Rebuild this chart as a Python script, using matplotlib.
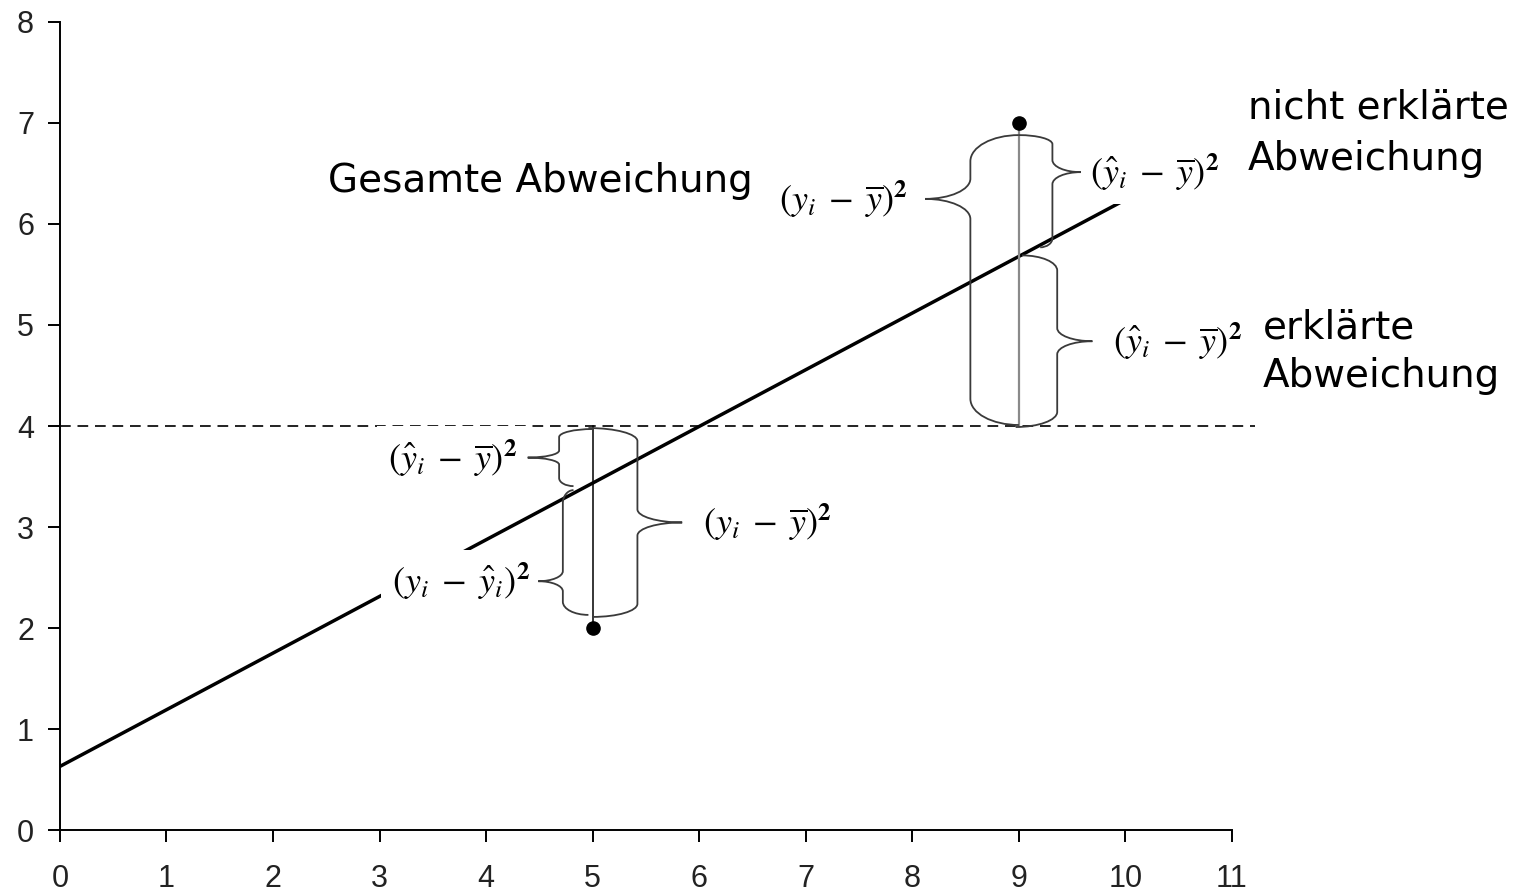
import numpy as np
import matplotlib.pyplot as plt
from matplotlib.path import Path
from matplotlib.patches import PathPatch

plt.rcParams['mathtext.fontset'] = 'stix'

# observations, mean and fitted regression line
x_obs = [5, 9]
y_obs = [2, 7]
y_mean = 4.0
intercept = 0.63
slope = 0.561
x_fit = [0, 10]

x_ticks = list(range(0, 12))
y_ticks = list(range(0, 9))

# formula labels
lbl_total = r'$(y_i\;-\;\overline{y})^{\mathbf{2}}$'
lbl_expl = r'$(\hat{y}_i\;-\;\overline{y})^{\mathbf{2}}$'
lbl_resid = r'$(y_i\;-\;\hat{y}_i)^{\mathbf{2}}$'


def y_hat(x):
    return intercept + slope * x


def brace(ax, x_stem, x_tip, y_top, y_bot, frac, x_end_top, x_end_bot,
          r_end, r_tip, **kw):
    # curly brace built from quarter-ellipse bezier pieces, returns tip y
    k = 0.552
    y_tip = y_top - frac * (y_top - y_bot)
    verts = [
        (x_end_top, y_top),
        (x_end_top + (x_stem - x_end_top) * k, y_top),
        (x_stem, y_top - r_end * (1 - k)),
        (x_stem, y_top - r_end),
        (x_stem, y_tip + r_tip),
        (x_stem, y_tip + r_tip * (1 - k)),
        (x_tip + (x_stem - x_tip) * k, y_tip),
        (x_tip, y_tip),
        (x_tip + (x_stem - x_tip) * k, y_tip),
        (x_stem, y_tip - r_tip * (1 - k)),
        (x_stem, y_tip - r_tip),
        (x_stem, y_bot + r_end),
        (x_stem, y_bot + r_end * (1 - k)),
        (x_end_bot + (x_stem - x_end_bot) * k, y_bot),
        (x_end_bot, y_bot),
    ]
    codes = [Path.MOVETO] + [Path.CURVE4] * 3 + [Path.LINETO] + [Path.CURVE4] * 6 \
        + [Path.LINETO] + [Path.CURVE4] * 3
    ax.add_patch(PathPatch(Path(verts, codes), fill=False, **kw))
    return y_tip


fig = plt.figure(figsize=(15.14, 8.93), dpi=100)
ax = fig.add_axes([0.0396, 0.0705, 0.7741, 0.9049])

xf = np.array(x_fit, dtype=float)
ax.plot(xf, y_hat(xf), color='black', lw=2.5, zorder=2, solid_capstyle='butt')
ax.plot([0, 11.22], [y_mean, y_mean], ls=(0, (5.5, 3.5)), lw=1.4,
        color='#222222', clip_on=False, zorder=1)

# deviation lines from the points to the mean
ax.plot([x_obs[1], x_obs[1]], [y_mean, y_obs[1]], color='#8a8a8a', lw=1.6, zorder=3)
ax.plot([x_obs[0], x_obs[0]], [y_obs[0], y_mean], color='black', lw=1.1, zorder=3)
ax.plot(x_obs, y_obs, 'o', color='black', ms=9.5, zorder=6, clip_on=False)

bkw = dict(color='#3a3a3a', lw=1.3, zorder=5)
tkw = dict(fontsize=26, zorder=4,
           bbox=dict(boxstyle='square,pad=0.3', fc='white', ec='none'))

# braces at x = 9
yh9 = y_hat(x_obs[1])
ya = brace(ax, 8.545, 8.12, y_obs[1] - 0.12, y_mean + 0.01, 0.22, 9.0, 9.0, 0.26, 0.2, **bkw)
yb = brace(ax, 9.315, 9.58, y_obs[1] - 0.12, yh9 + 0.09, 0.33, 9.0, 9.2, 0.09, 0.12, **bkw)
yc = brace(ax, 9.36, 9.69, yh9 + 0.01, y_mean - 0.01, 0.5, 9.03, 8.97, 0.15, 0.13, **bkw)
ax.text(7.96, ya, lbl_total, ha='right', va='center', **tkw)
ax.text(9.67, yb, lbl_expl, ha='left', va='center', **tkw)
ax.text(9.88, yc, lbl_expl, ha='left', va='center', **tkw)

# braces at x = 5
yh5 = y_hat(x_obs[0])
yd = brace(ax, 4.685, 4.39, y_mean - 0.03, yh5 - 0.03, 0.5, 5.0, 4.82, 0.08, 0.07, **bkw)
ye = brace(ax, 4.72, 4.49, yh5 - 0.07, y_obs[0] + 0.13, 0.73, 4.82, 4.96, 0.13, 0.10, **bkw)
yf = brace(ax, 5.42, 5.84, y_mean - 0.02, y_obs[0] + 0.11, 0.5, 4.96, 5.0, 0.13, 0.13, **bkw)
ax.text(4.29, yd, lbl_expl, ha='right', va='center', **tkw)
ax.text(4.41, ye, lbl_resid, ha='right', va='center', **tkw)
ax.text(6.04, yf, lbl_total, ha='left', va='center', **tkw)

# descriptive text
txt = dict(fontsize=28, family='DejaVu Sans', va='baseline', ha='left', clip_on=False)
ax.text(2.52, 6.32, 'Gesamte Abweichung', **txt)
ax.text(11.15, 7.04, 'nicht erklärte', **txt)
ax.text(11.15, 6.53, 'Abweichung', **txt)
ax.text(11.29, 4.87, 'erklärte', **txt)
ax.text(11.29, 4.39, 'Abweichung', **txt)

ax.set_xlim(0, 11)
ax.set_ylim(0, 8)
ax.set_xticks(x_ticks)
ax.set_yticks(y_ticks)
for lab in ax.get_xticklabels() + ax.get_yticklabels():
    lab.set_fontfamily('Liberation Sans')
ax.tick_params(axis='both', length=8.6, width=1.4, labelsize=22, labelcolor='#222222')
ax.tick_params(axis='x', pad=16)
ax.tick_params(axis='y', pad=10)
for s in ['top', 'right']:
    ax.spines[s].set_visible(False)
for s in ['left', 'bottom']:
    ax.spines[s].set_linewidth(1.4)

fig.savefig('out.png', dpi=100)
